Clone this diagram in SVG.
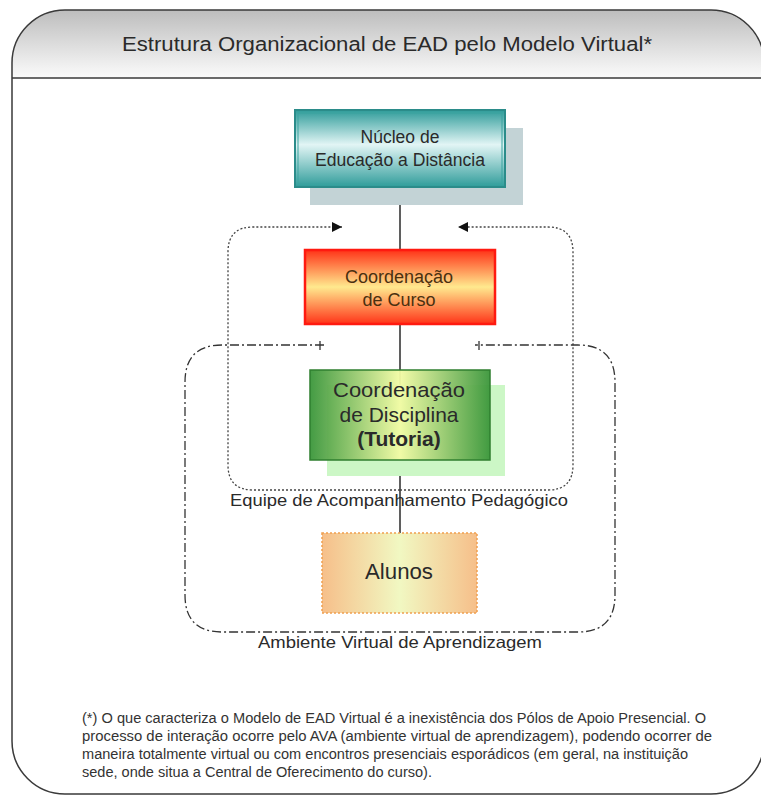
<svg xmlns="http://www.w3.org/2000/svg" width="761" height="795" viewBox="0 0 761 795">
<style>
text{font-family:"Liberation Sans",Arial,sans-serif;fill:#2a2a2a}
.c{text-anchor:middle}
.frame{fill:none;stroke:#3a3a3a;stroke-width:1.5}
.conn{stroke:#2a2a2a;stroke-width:1.5;fill:none}
.dot{fill:none;stroke:#444;stroke-width:1.3;stroke-dasharray:2,2}
.dashdot{fill:none;stroke:#333;stroke-width:1.3;stroke-dasharray:9,3,2,3}
</style>
<defs>
<linearGradient id="hdr" x1="0" y1="0" x2="0" y2="1">
<stop offset="0" stop-color="#bdbdbd"/><stop offset="1" stop-color="#fbfbfb"/>
</linearGradient>
<linearGradient id="teal" x1="0" y1="0" x2="0" y2="1">
<stop offset="0" stop-color="#2f9c9a"/><stop offset="0.45" stop-color="#e2f5f5"/><stop offset="1" stop-color="#2f9c9a"/>
</linearGradient>
<linearGradient id="red" x1="0" y1="0" x2="0" y2="1">
<stop offset="0" stop-color="#ff3318"/><stop offset="0.5" stop-color="#ffe98e"/><stop offset="1" stop-color="#ff3318"/>
</linearGradient>
<linearGradient id="green" x1="0" y1="0" x2="1" y2="0">
<stop offset="0" stop-color="#3a963a"/><stop offset="0.5" stop-color="#f2fba4"/><stop offset="1" stop-color="#3a963a"/>
</linearGradient>
<linearGradient id="orange" x1="0" y1="0" x2="1" y2="0">
<stop offset="0" stop-color="#f6bf8a"/><stop offset="0.5" stop-color="#f1f8c2"/><stop offset="1" stop-color="#f6bf8a"/>
</linearGradient>
<marker id="arr" viewBox="0 0 10 10" refX="10" refY="5" markerWidth="10" markerHeight="10" markerUnits="userSpaceOnUse" orient="auto">
<path d="M0,0 L10,5 L0,10 z" fill="#111"/>
</marker>
</defs>

<g id="frame">
<path d="M12,78 L12,62 A52,52 0 0 1 64,10 L709,10 A55,55 0 0 1 764,65 L764,78 Z" fill="url(#hdr)"/>
<rect x="12" y="10" width="752" height="784" rx="53" ry="53" class="frame"/>
<line x1="12" y1="78" x2="764" y2="78" class="frame"/>
<text x="387" y="51" class="c" font-size="20" textLength="530" lengthAdjust="spacingAndGlyphs">Estrutura Organizacional de EAD pelo Modelo Virtual*</text>
</g>

<g id="connectors">
<line x1="400" y1="187" x2="400" y2="533" class="conn"/>
<path d="M400,490 L253,490 Q228,490 228,465 L228,252 Q228,227 253,227 L342,227" class="dot" marker-end="url(#arr)"/>
<path d="M400,490 L548,490 Q573,490 573,465 L573,252 Q573,227 548,227 L458,227" class="dot" marker-end="url(#arr)"/>
<path d="M324,345 L222,345 Q185,345 185,382 L185,595 Q185,632 222,632 L578,632 Q615,632 615,595 L615,382 Q615,345 578,345 L475,345" class="dashdot"/>
<line x1="320" y1="341" x2="320" y2="350" stroke="#333" stroke-width="1.3"/>
<line x1="479" y1="341" x2="479" y2="350" stroke="#333" stroke-width="1.3"/>
</g>

<g id="equipe-label">
<text x="399" y="506" class="c" font-size="16.5" textLength="338" lengthAdjust="spacingAndGlyphs">Equipe de Acompanhamento Pedagógico</text>
</g>
<g id="ambiente-label">
<text x="400" y="648" class="c" font-size="16.5" textLength="284" lengthAdjust="spacingAndGlyphs">Ambiente Virtual de Aprendizagem</text>
</g>

<g id="nucleo">
<rect x="310" y="128" width="213" height="77" fill="#c3d3d6"/>
<rect x="295" y="110" width="210" height="77" fill="url(#teal)" stroke="#2b8c8a" stroke-width="2"/>
<rect x="298" y="113" width="204" height="71" fill="none" stroke="#3aa3a0" stroke-width="1"/>
<text x="400" y="143" class="c" font-size="17.5">Núcleo de</text>
<text x="400" y="166" class="c" font-size="17.5" textLength="170" lengthAdjust="spacingAndGlyphs">Educação a Distância</text>
</g>

<g id="coord-curso">
<rect x="305" y="250" width="190" height="74" fill="url(#red)" stroke="#ff1a10" stroke-width="2.5"/>
<text x="399" y="283" class="c" font-size="18" style="fill:#4a3010">Coordenação</text>
<text x="399" y="306" class="c" font-size="18" style="fill:#4a3010">de Curso</text>
</g>

<g id="coord-disciplina">
<rect x="327" y="385" width="178" height="91" fill="#ccf7c6"/>
<rect x="310" y="370" width="180" height="90" fill="url(#green)" fill-opacity="0.95" stroke="#2f7f2f" stroke-width="1.5"/>
<text x="399" y="397" class="c" font-size="21" textLength="132" lengthAdjust="spacingAndGlyphs">Coordenação</text>
<text x="399" y="422" class="c" font-size="21">de Disciplina</text>
<text x="399" y="446" class="c" font-size="21" font-weight="bold">(Tutoria)</text>
</g>

<g id="alunos">
<rect x="322" y="533" width="155" height="80" fill="url(#orange)" stroke="#f0a050" stroke-width="1.5" stroke-dasharray="2,2"/>
<text x="399" y="579" class="c" font-size="22" textLength="68" lengthAdjust="spacingAndGlyphs">Alunos</text>
</g>

<g id="footnote">
<text font-size="14" style="fill:#333">
<tspan x="82" y="723" textLength="624" lengthAdjust="spacingAndGlyphs">(*) O que caracteriza o Modelo de EAD Virtual é a inexistência  dos Pólos de Apoio Presencial. O</tspan>
<tspan x="82" y="741" textLength="630" lengthAdjust="spacingAndGlyphs">processo de interação ocorre pelo AVA (ambiente virtual de aprendizagem), podendo ocorrer de</tspan>
<tspan x="82" y="759" textLength="606" lengthAdjust="spacingAndGlyphs">maneira totalmente virtual ou com encontros presenciais esporádicos (em geral, na instituição</tspan>
<tspan x="82" y="777" textLength="350" lengthAdjust="spacingAndGlyphs">sede, onde situa a Central de Oferecimento do curso).</tspan>
</text>
</g>
</svg>
